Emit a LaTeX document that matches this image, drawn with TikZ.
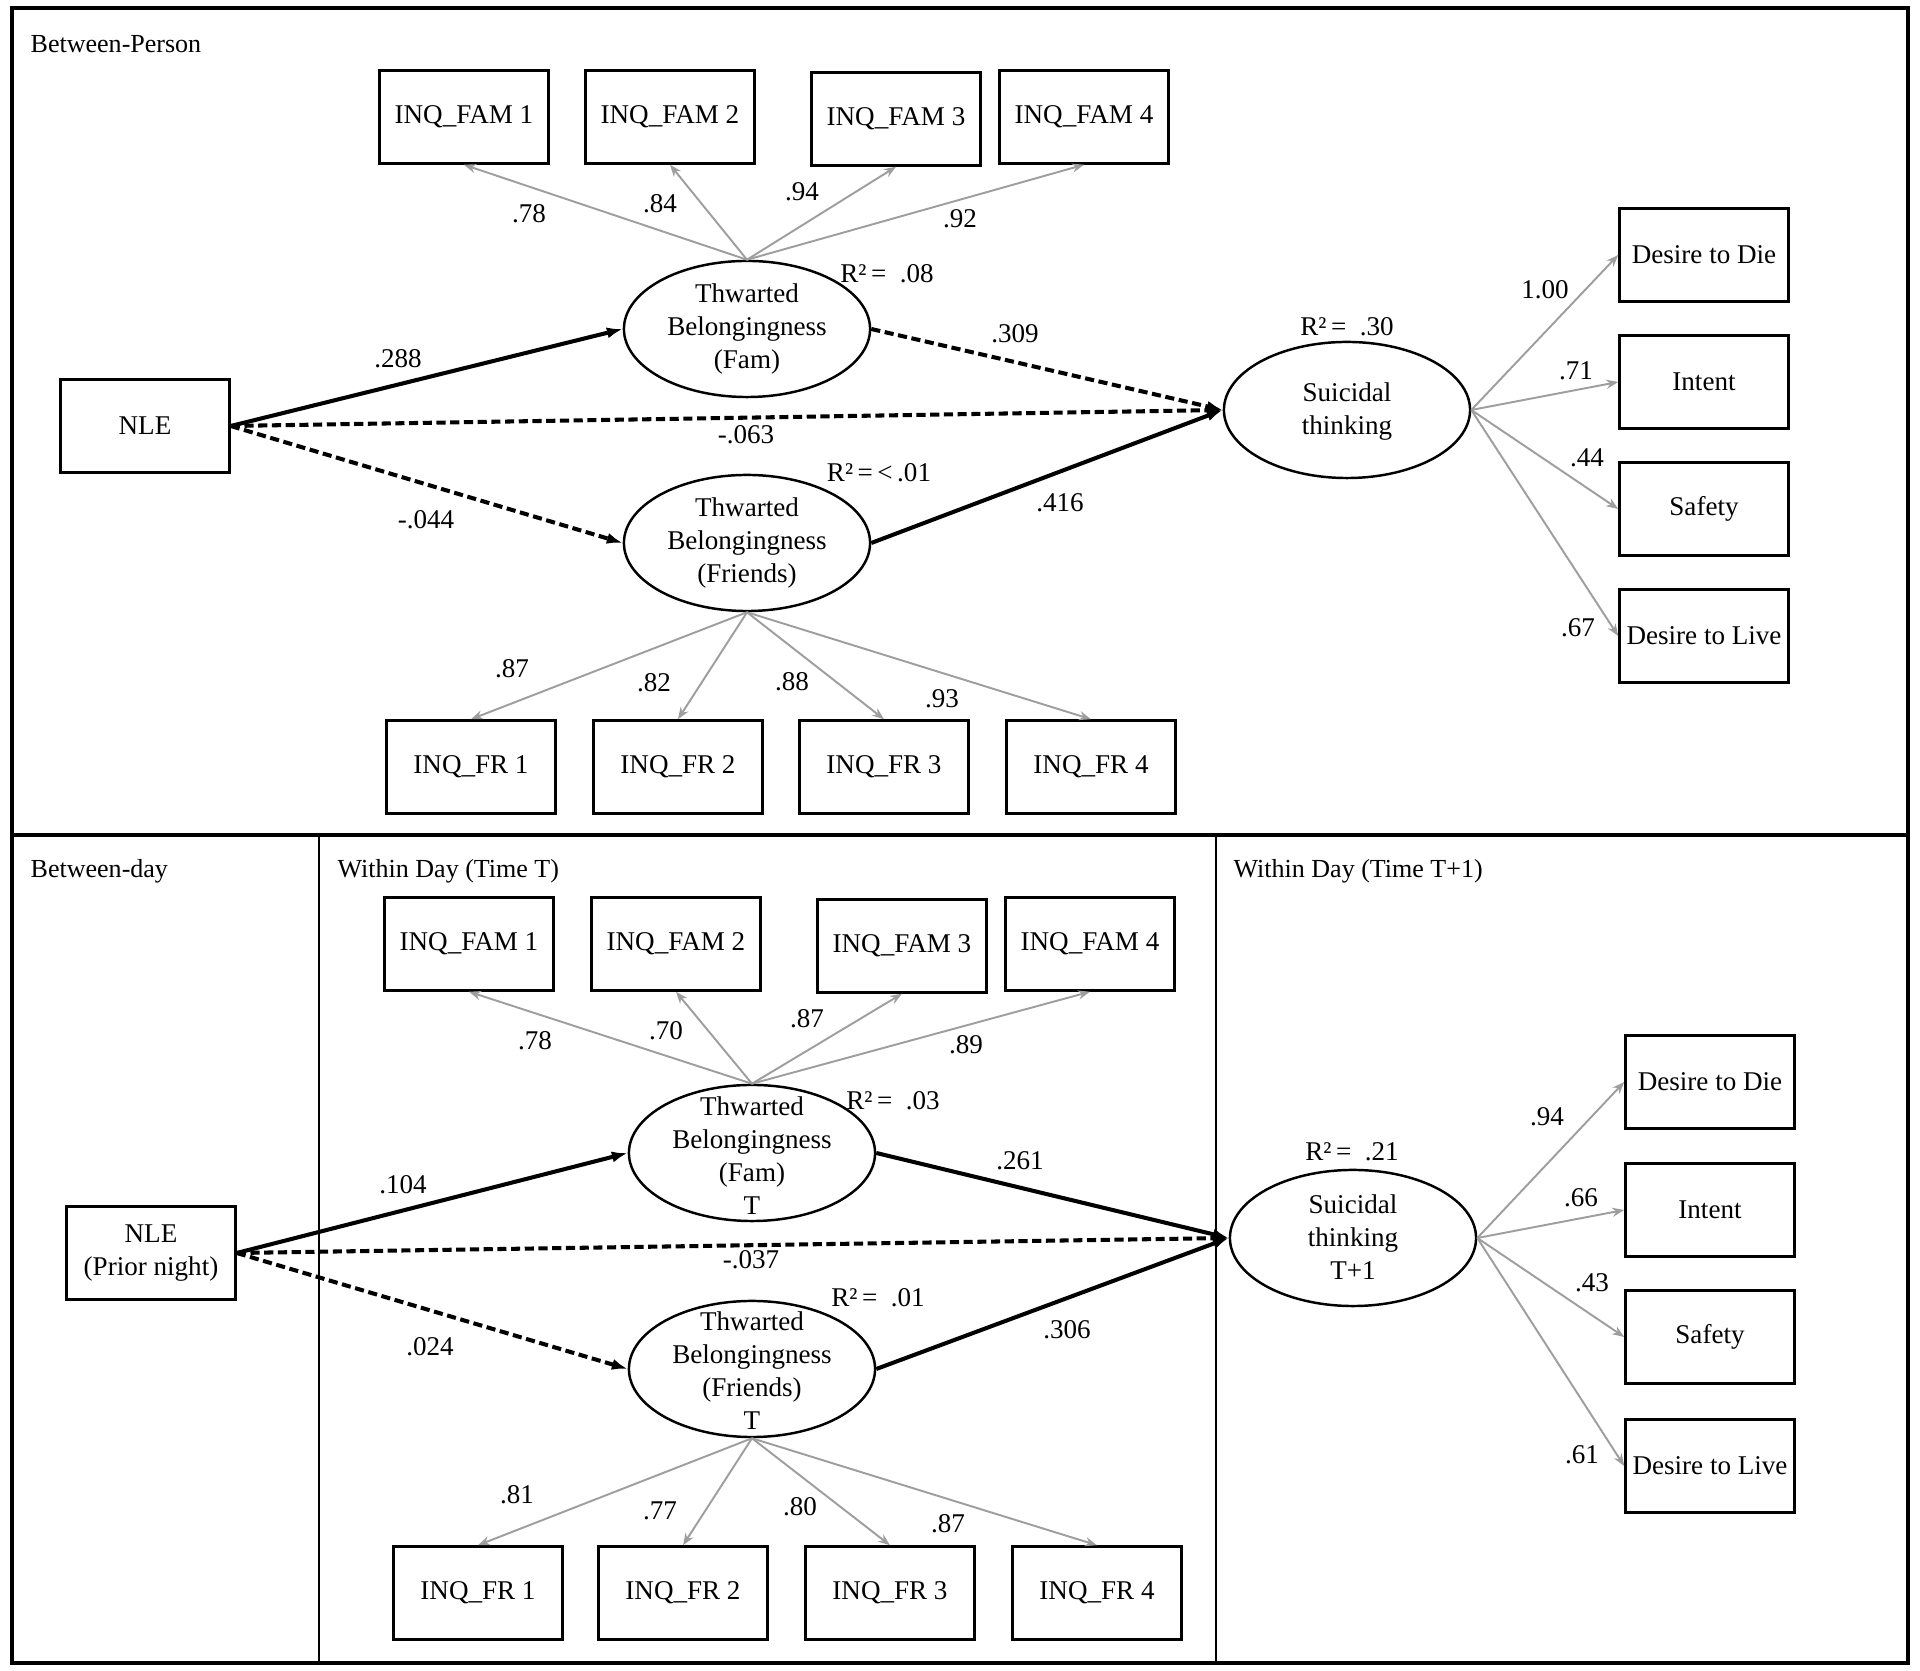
\documentclass[tikz,border=0pt]{standalone}
\usepackage{fontspec}
\setmainfont{Liberation Serif}
\usepackage{tikz}
\usetikzlibrary{arrows.meta,shapes}

\begin{document}
\begin{tikzpicture}[x=0.01cm, y=-0.01cm,
	every node/.style={font=\fontsize{7.7}{9.4}\selectfont},
	obsn/.style={rectangle, draw, line width=0.7pt, minimum width=1.69cm, minimum height=0.93cm, inner sep=0pt, align=center},
	latn/.style={ellipse, draw, line width=0.7pt, minimum width=2.46cm, minimum height=1.36cm, inner sep=0pt},
	latt/.style={align=center, inner sep=0pt},
	lbl/.style={inner sep=0pt},
	ttl/.style={inner sep=0pt, anchor=west, font=\fontsize{7.4}{9}\selectfont},
	load/.style={draw=black!38, line width=0.55pt, -{Stealth[length=3.4pt, width=2.6pt, fill=black!38]}},
	solidp/.style={line width=1.15pt, -{Latex[length=4.5pt, width=3.2pt]}},
	dashp/.style={solidp, dash pattern=on 2.6pt off 1.3pt}]

	\useasboundingbox (0,0) rectangle (1920,1671);
	\draw[line width=1pt] (12,8) rectangle (1908,1663);
	\draw[line width=1.2pt] (12,835) -- (1908,835);
	\draw[line width=0.6pt] (319,835) -- (319,1663);
	\draw[line width=0.6pt] (1216,835) -- (1216,1663);

	\node (tbp) [ttl] at (30,44) {Between-Person};
	\node (tbd) [ttl] at (30,871) {Between-day};
	\node (twt) [ttl] at (337,871) {Within Day (Time T)};
	\node (twt1) [ttl] at (1233,871) {Within Day (Time T+1)};

	\node (nle) [obsn] at (145,426) {NLE};
	\node (tbfam) [latn] at (747,329) {};
	\node (tbfamt) [latt] at (747,329) {Thwarted\\Belongingness\\(Fam)};
	\node (tbfr) [latn] at (747,543) {};
	\node (tbfrt) [latt] at (747,543) {Thwarted\\Belongingness\\(Friends)};
	\node (st) [latn] at (1347,410) {};
	\node (stt) [latt] at (1347,412) {Suicidal\\thinking};
	\node (fam1) [obsn] at (464,117) {INQ\_FAM 1};
	\node (fam2) [obsn] at (670,117) {INQ\_FAM 2};
	\node (fam3) [obsn] at (896,119) {INQ\_FAM 3};
	\node (fam4) [obsn] at (1084,117) {INQ\_FAM 4};
	\node (fr1) [obsn] at (471,767) {INQ\_FR 1};
	\node (fr2) [obsn] at (678,767) {INQ\_FR 2};
	\node (fr3) [obsn] at (884,767) {INQ\_FR 3};
	\node (fr4) [obsn] at (1091,767) {INQ\_FR 4};
	\node (die) [obsn] at (1704,255) {Desire to Die};
	\node (intent) [obsn] at (1704,382) {Intent};
	\node (safety) [obsn] at (1704,509) {Safety};
	\node (live) [obsn] at (1704,636) {Desire to Live};

	\draw[load] (tbfam.north) -- (fam1.south);
	\draw[load] (tbfam.north) -- (fam2.south);
	\draw[load] (tbfam.north) -- (fam3.south);
	\draw[load] (tbfam.north) -- (fam4.south);
	\draw[load] (tbfr.south) -- (fr1.north);
	\draw[load] (tbfr.south) -- (fr2.north);
	\draw[load] (tbfr.south) -- (fr3.north);
	\draw[load] (tbfr.south) -- (fr4.north);
	\draw[load] (st.east) -- (die.west);
	\draw[load] (st.east) -- (intent.west);
	\draw[load] (st.east) -- (safety.west);
	\draw[load] (st.east) -- (live.west);
	\draw[solidp] (nle.east) -- (tbfam.west);
	\draw[dashp] (nle.east) -- (st.west);
	\draw[dashp] (nle.east) -- (tbfr.west);
	\draw[dashp] (tbfam.east) -- (st.west);
	\draw[solidp] (tbfr.east) -- (st.west);

	\node (l78) [lbl] at (529,214) {.78};
	\node (l84) [lbl] at (660,204) {.84};
	\node (l94) [lbl] at (802,192) {.94};
	\node (l92) [lbl] at (960,219) {.92};
	\node (r08) [lbl] at (887,274) {R²\,=\ \ .08};
	\node (l288) [lbl] at (398,359) {.288};
	\node (l309) [lbl] at (1015,334) {.309};
	\node (l063) [lbl] at (746,435) {-.063};
	\node (r01) [lbl] at (879,473) {R²\,=\,<\,.01};
	\node (l044) [lbl] at (426,520) {-.044};
	\node (l416) [lbl] at (1060,503) {.416};
	\node (r30) [lbl] at (1347,327) {R²\,=\ \ .30};
	\node (l100) [lbl] at (1545,290) {1.00};
	\node (l71) [lbl] at (1576,371) {.71};
	\node (l44) [lbl] at (1587,458) {.44};
	\node (l67) [lbl] at (1578,628) {.67};
	\node (l87) [lbl] at (512,669) {.87};
	\node (l82) [lbl] at (654,683) {.82};
	\node (l88) [lbl] at (792,682) {.88};
	\node (l93) [lbl] at (942,699) {.93};

	\node (nleb) [obsn] at (151,1253) {NLE\\(Prior night)};
	\node (tbfamb) [latn] at (752,1153) {};
	\node (tbfambt) [latt] at (752,1156) {Thwarted\\Belongingness\\(Fam)\\T};
	\node (tbfrb) [latn] at (752,1369) {};
	\node (tbfrbt) [latt] at (752,1371) {Thwarted\\Belongingness\\(Friends)\\T};
	\node (stb) [latn] at (1353,1238) {};
	\node (stbt) [latt] at (1353,1237) {Suicidal\\thinking\\T+1};
	\node (famb1) [obsn] at (469,944) {INQ\_FAM 1};
	\node (famb2) [obsn] at (676,944) {INQ\_FAM 2};
	\node (famb3) [obsn] at (902,946) {INQ\_FAM 3};
	\node (famb4) [obsn] at (1090,944) {INQ\_FAM 4};
	\node (frb1) [obsn] at (478,1593) {INQ\_FR 1};
	\node (frb2) [obsn] at (683,1593) {INQ\_FR 2};
	\node (frb3) [obsn] at (890,1593) {INQ\_FR 3};
	\node (frb4) [obsn] at (1097,1593) {INQ\_FR 4};
	\node (dieb) [obsn] at (1710,1082) {Desire to Die};
	\node (intentb) [obsn] at (1710,1210) {Intent};
	\node (safetyb) [obsn] at (1710,1337) {Safety};
	\node (liveb) [obsn] at (1710,1466) {Desire to Live};

	\draw[load] (tbfamb.north) -- (famb1.south);
	\draw[load] (tbfamb.north) -- (famb2.south);
	\draw[load] (tbfamb.north) -- (famb3.south);
	\draw[load] (tbfamb.north) -- (famb4.south);
	\draw[load] (tbfrb.south) -- (frb1.north);
	\draw[load] (tbfrb.south) -- (frb2.north);
	\draw[load] (tbfrb.south) -- (frb3.north);
	\draw[load] (tbfrb.south) -- (frb4.north);
	\draw[load] (stb.east) -- (dieb.west);
	\draw[load] (stb.east) -- (intentb.west);
	\draw[load] (stb.east) -- (safetyb.west);
	\draw[load] (stb.east) -- (liveb.west);
	\draw[solidp] (nleb.east) -- (tbfamb.west);
	\draw[dashp] (nleb.east) -- (stb.west);
	\draw[dashp] (nleb.east) -- (tbfrb.west);
	\draw[solidp] (tbfamb.east) -- (stb.west);
	\draw[solidp] (tbfrb.east) -- (stb.west);

	\node (lb78) [lbl] at (535,1041) {.78};
	\node (lb70) [lbl] at (666,1031) {.70};
	\node (lb87) [lbl] at (807,1019) {.87};
	\node (lb89) [lbl] at (966,1045) {.89};
	\node (rb03) [lbl] at (893,1101) {R²\,=\ \ .03};
	\node (lb104) [lbl] at (403,1185) {.104};
	\node (lb261) [lbl] at (1020,1161) {.261};
	\node (lb037) [lbl] at (751,1260) {-.037};
	\node (rb01) [lbl] at (878,1298) {R²\,=\ \ .01};
	\node (lb024) [lbl] at (430,1347) {.024};
	\node (lb306) [lbl] at (1067,1330) {.306};
	\node (rb21) [lbl] at (1352,1152) {R²\,=\ \ .21};
	\node (lb94) [lbl] at (1547,1117) {.94};
	\node (lb66) [lbl] at (1581,1198) {.66};
	\node (lb43) [lbl] at (1592,1283) {.43};
	\node (lb61) [lbl] at (1582,1455) {.61};
	\node (lb81) [lbl] at (517,1495) {.81};
	\node (lb77) [lbl] at (660,1511) {.77};
	\node (lb80) [lbl] at (800,1507) {.80};
	\node (lb87b) [lbl] at (948,1524) {.87};

\end{tikzpicture}
\end{document}
